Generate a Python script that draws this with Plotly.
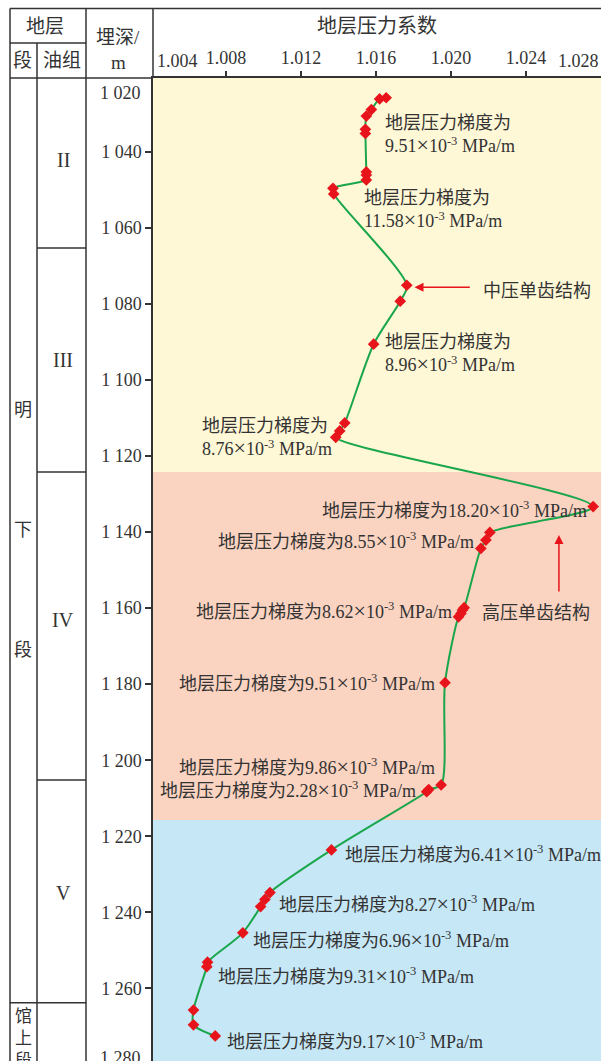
import plotly.graph_objects as go

# ---------------- data ----------------
depth = [1025.8, 1026.1, 1028.9, 1030.6, 1034.1, 1035.2, 1045.3, 1046.1, 1047.4,
         1049.6, 1051.1, 1075.1, 1079.3, 1090.6, 1111.3, 1113.4, 1115.1, 1133.3,
         1140.1, 1142.1, 1144.3, 1159.9, 1160.5, 1161.4, 1162.3, 1179.6, 1206.5,
         1207.7, 1208.3, 1223.6, 1234.8, 1236.6, 1238.5, 1245.4, 1253.1, 1254.3,
         1265.7, 1269.6, 1272.5]
coef = [1.01654, 1.01619, 1.01575, 1.01548, 1.01543, 1.01543, 1.01548, 1.01548, 1.01548,
        1.01370, 1.01374, 1.01764, 1.01729, 1.01587, 1.01433, 1.01406, 1.01385, 1.02758,
        1.02207, 1.02186, 1.02159, 1.02070, 1.02061, 1.02053, 1.02040, 1.01968, 1.01947,
        1.01881, 1.01870, 1.01362, 1.01034, 1.01007, 1.00984, 1.00889, 1.00701, 1.00697,
        1.00626, 1.00626, 1.00742]

# pressure zones (depth bounds) and colors
zone_bounds = [1020.6, 1124.2, 1215.7, 1279.1]
zone_colors = ["#FFF8D6", "#FBD3C1", "#C6E7F6"]

# stratigraphy
oil_groups = ["II", "III", "IV", "V"]
oil_group_label_depth = [1042.2, 1094.8, 1163.2, 1234.9]
oil_group_bounds = [1065.3, 1124.2, 1205.2]
member_bound = 1263.8
member_chars = ["明", "下", "段"]
member_char_depth = [1107.9, 1139.5, 1171.0]

# y ticks
ytick_vals = [1040, 1060, 1080, 1100, 1120, 1140, 1160, 1180, 1200, 1220, 1240, 1260]
ytick_text = ["1 040", "1 060", "1 080", "1 100", "1 120", "1 140", "1 160", "1 180",
              "1 200", "1 220", "1 240", "1 260"]
xtick_vals = [1.008, 1.012, 1.016, 1.020, 1.024]
xtick_text = ["1.008", "1.012", "1.016", "1.020", "1.024"]

# gradient labels
grad_vals = ["9.51", "11.58", "8.96", "8.76", "18.20", "8.55", "8.62", "9.51",
             "9.86", "2.28", "6.41", "8.27", "6.96", "9.31", "9.17"]
grad_x = [1.01635, 1.01523, 1.01635, 1.00662, 1.02735, 1.02134, 1.02017, 1.01927,
          1.01923, 1.01822, 1.01422, 1.01071, 1.00931, 1.00747, 1.00795]
grad_y = [1035.6, 1055.2, 1093.1, 1115.3, 1134.2, 1142.1, 1160.5, 1179.6,
          1201.7, 1207.8, 1224.5, 1237.8, 1247.1, 1256.7, 1273.8]
grad_anchor = ["left", "left", "left", "left", "right", "right", "right", "right",
               "right", "right", "left", "left", "left", "left", "left"]
grad_two_line = [True, True, True, True, False, False, False, False,
                 False, False, False, False, False, False, False]

FONT = "Liberation Serif, Noto Sans CJK SC, serif"
TXT = "#333333"
LINE = "#333333"
W, H = 601, 1061
L, T = 153, 78
PW, PH = W - L, H - T


def pxx(px):
    return (px - L) / PW


def pxy(py):
    return (H - py) / PH


fig = go.Figure()
fig.add_trace(go.Scatter(
    x=coef, y=depth, mode="lines+markers",
    line=dict(color="#1AA64B", width=2, shape="spline", smoothing=0.8),
    marker=dict(symbol="diamond", size=9, color="#E8141B"),
    showlegend=False, hoverinfo="skip"))

shapes = []
for i, c in enumerate(zone_colors):
    shapes.append(dict(type="rect", xref="paper", yref="y", x0=0, x1=1,
                       y0=zone_bounds[i], y1=zone_bounds[i + 1],
                       fillcolor=c, line=dict(width=0), layer="below"))


def hline(x0, x1, py=None, yv=None):
    if yv is None:
        shapes.append(dict(type="line", xref="paper", yref="paper", x0=pxx(x0), x1=pxx(x1),
                           y0=pxy(py), y1=pxy(py), line=dict(color=LINE, width=1.5)))
    else:
        shapes.append(dict(type="line", xref="paper", yref="y", x0=pxx(x0), x1=pxx(x1),
                           y0=yv, y1=yv, line=dict(color=LINE, width=1.5)))


def vline(px, py0, py1):
    shapes.append(dict(type="line", xref="paper", yref="paper", x0=pxx(px), x1=pxx(px),
                       y0=pxy(py0), y1=pxy(py1), line=dict(color=LINE, width=1.5)))


hline(10, 601, py=8.5)
hline(10, 86, py=43)
hline(10, 153, py=78)
vline(10, 8.5, 1061)
vline(37, 43, 1061)
vline(86, 8.5, 1061)
vline(153, 8.5, 78)
for b in oil_group_bounds:
    hline(37, 86, yv=b)
hline(10, 86, yv=member_bound)

ann = []


def txt(text, x, y, xref="paper", yref="paper", size=18, xa="center", ya="middle", align="center"):
    ann.append(dict(text=text, x=x, y=y, xref=xref, yref=yref, showarrow=False,
                    xanchor=xa, yanchor=ya, align=align,
                    font=dict(family=FONT, size=size, color=TXT)))


# header
txt("地层", pxx(45), pxy(26), size=19)
txt("段", pxx(22), pxy(61), size=19)
txt("油组", pxx(62), pxy(61), size=19)
txt("埋深/", pxx(118), pxy(37), size=19)
txt("m", pxx(118), pxy(62), size=19)
txt("地层压力系数", 0.5, pxy(26), size=20)
txt("1.004", pxx(177), pxy(61), size=18)
txt("1.028", pxx(578), pxy(61), size=18)
txt("1 020", pxx(143), 1024.6, yref="y", size=18, xa="right")
txt("1 280", pxx(143), 1278.3, yref="y", size=18, xa="right")

# strat column
for g, d in zip(oil_groups, oil_group_label_depth):
    txt(g, pxx(63), d, yref="y", size=20)
for ch, d in zip(member_chars, member_char_depth):
    txt(ch, pxx(23), d, yref="y", size=18)
txt("馆<br>上<br>段", pxx(23), pxy(1005), size=17, ya="top")

# gradient annotations
TIMES = '<span style="font-size:22px">×</span>'
for v, x, y, a, two in zip(grad_vals, grad_x, grad_y, grad_anchor, grad_two_line):
    sep = "<br>" if two else ""
    t = "地层压力梯度为" + sep + v + TIMES + "10<sup>-3</sup> MPa/m"
    txt(t, x, y, xref="x", yref="y", size=18, xa=a, align="left")

txt("中压单齿结构", 1.02161, 1076.6, xref="x", yref="y", size=18, xa="left")
txt("高压单齿结构", 1.02155, 1161.4, xref="x", yref="y", size=18, xa="left")

# arrows
ann.append(dict(x=1.01805, y=1075.6, ax=1.02108, ay=1075.6, xref="x", yref="y",
                axref="x", ayref="y", text="", showarrow=True, arrowhead=2,
                arrowsize=1.2, arrowwidth=1.5, arrowcolor="#E8141B"))
ann.append(dict(x=1.025755, y=1140.8, ax=1.025755, ay=1156.0, xref="x", yref="y",
                axref="x", ayref="y", text="", showarrow=True, arrowhead=2,
                arrowsize=1.2, arrowwidth=1.5, arrowcolor="#E8141B"))

fig.update_layout(
    width=W, height=H,
    margin=dict(l=L, r=0, t=T, b=0, pad=0),
    paper_bgcolor="white", plot_bgcolor="white",
    shapes=shapes, annotations=ann,
    xaxis=dict(side="top", range=[1.0041, 1.0280], tickvals=xtick_vals, ticktext=xtick_text,
               ticks="outside", ticklen=5, tickwidth=1.5, tickcolor=LINE,
               showline=True, linecolor=LINE, linewidth=1.5,
               showgrid=False, zeroline=False,
               tickfont=dict(family=FONT, size=18, color=TXT)),
    yaxis=dict(range=[zone_bounds[-1], zone_bounds[0]], tickvals=ytick_vals, ticktext=ytick_text,
               ticks="outside", ticklen=6, tickwidth=1.5, tickcolor=LINE,
               showline=True, linecolor=LINE, linewidth=1.5,
               showgrid=False, zeroline=False,
               tickfont=dict(family=FONT, size=18, color=TXT)),
)

fig.write_html(
    "out.html",
    config={"displayModeBar": False},
    post_script="document.body.style.margin='0px';"
                "document.documentElement.style.overflow='hidden';",
)
